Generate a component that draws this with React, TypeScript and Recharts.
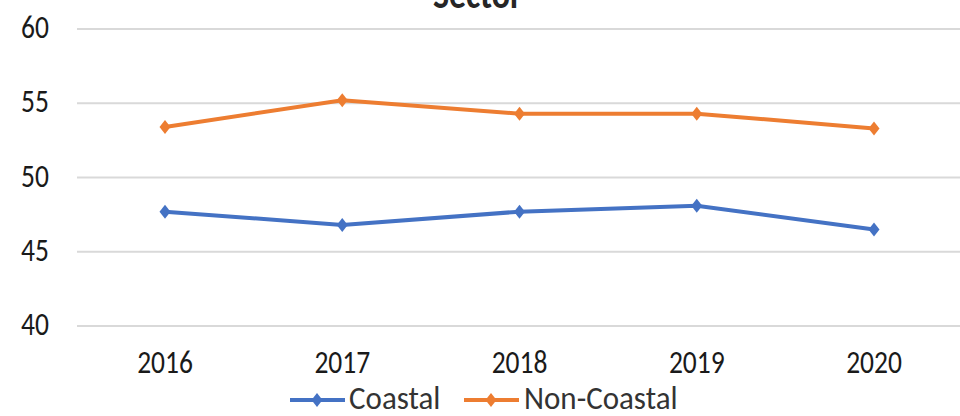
import React from 'react';
import { LineChart, Line, XAxis, YAxis, CartesianGrid, Legend } from 'recharts';

const years = ['2016', '2017', '2018', '2019', '2020'];
const coastal = [47.7, 46.8, 47.7, 48.1, 46.5];
const nonCoastal = [53.4, 55.2, 54.3, 54.3, 53.3];
const yTicks = [40, 45, 50, 55, 60];
const seriesNames = ['Coastal', 'Non-Coastal'];
const colors = ['#4472C4', '#ED7D31'];

const data = years.map((y, i) => ({ year: y, Coastal: coastal[i], 'Non-Coastal': nonCoastal[i] }));

const FONT = "Carlito, 'Liberation Sans', sans-serif";
const SY = 1.16;

const Diamond = (props: any) => {
  const { cx, cy, fill } = props;
  if (cx == null || cy == null) return null;
  return <path d={`M${cx},${cy - 7}L${cx + 5.5},${cy}L${cx},${cy + 7}L${cx - 5.5},${cy}Z`} fill={fill} />;
};

const XTick = (props: any) => {
  const { x, y, payload } = props;
  return (
    <g transform={`translate(${x},${y + 39}) scale(1,${SY})`}>
      <text x={0} y={0} textAnchor="middle" fontFamily={FONT} fontSize={27.5} fill="#1a1a1a">{payload.value}</text>
    </g>
  );
};

const YTick = (props: any) => {
  const { y, payload } = props;
  return (
    <g transform={`translate(49,${y + 9}) scale(1,${SY})`}>
      <text x={0} y={0} textAnchor="end" fontFamily={FONT} fontSize={27.5} fill="#1a1a1a">{payload.value}</text>
    </g>
  );
};

const LegendContent = () => (
  <div style={{ position: 'relative', width: 960, height: 32, fontFamily: FONT, fontSize: 31, color: '#333' }}>
    {seriesNames.map((n, i) => {
      const lineX = i === 0 ? 290 : 464;
      const textX = i === 0 ? 349 : 524;
      return (
        <React.Fragment key={n}>
          <svg style={{ position: 'absolute', left: lineX, top: 6 }} width={56} height={20}>
            <line x1={0} y1={10} x2={55} y2={10} stroke={colors[i]} strokeWidth={4} />
            <path d="M27,3L32.5,10L27,17L21.5,10Z" fill={colors[i]} />
          </svg>
          <span style={{ position: 'absolute', left: textX, top: 0, height: 26, lineHeight: '26px', transform: 'scaleY(1.06)', transformOrigin: 'left center', whiteSpace: 'nowrap' }}>{n}</span>
        </React.Fragment>
      );
    })}
  </div>
);

export default function App() {
  return (
    <div style={{ position: 'absolute', left: 0, top: 0, width: 960, height: 416, background: '#fff', overflow: 'hidden' }}>
      <LineChart width={960} height={416} data={data} margin={{ top: 29, right: -2, left: 0, bottom: 0 }}>
        <g transform={`translate(477.5,8) scale(1,${SY})`}>
          <text x={0} y={0} textAnchor="middle" fontFamily={FONT} fontWeight="bold" fontSize={34} fill="#262626">Sector</text>
        </g>
        <CartesianGrid vertical={false} stroke="#D9D9D9" strokeWidth={2} />
        <XAxis dataKey="year" axisLine={false} tickLine={false} height={58} padding={{ left: 88, right: 88 }} tick={<XTick />} />
        <YAxis domain={[40, 60]} ticks={yTicks} axisLine={false} tickLine={false} width={77} tick={<YTick />} />
        <Legend verticalAlign="bottom" height={32} content={<LegendContent />} />
        {seriesNames.map((n, i) => (
          <Line key={n} type="linear" dataKey={n} stroke={colors[i]} strokeWidth={4} dot={<Diamond fill={colors[i]} />} activeDot={false} isAnimationActive={false} />
        ))}
      </LineChart>
    </div>
  );
}
